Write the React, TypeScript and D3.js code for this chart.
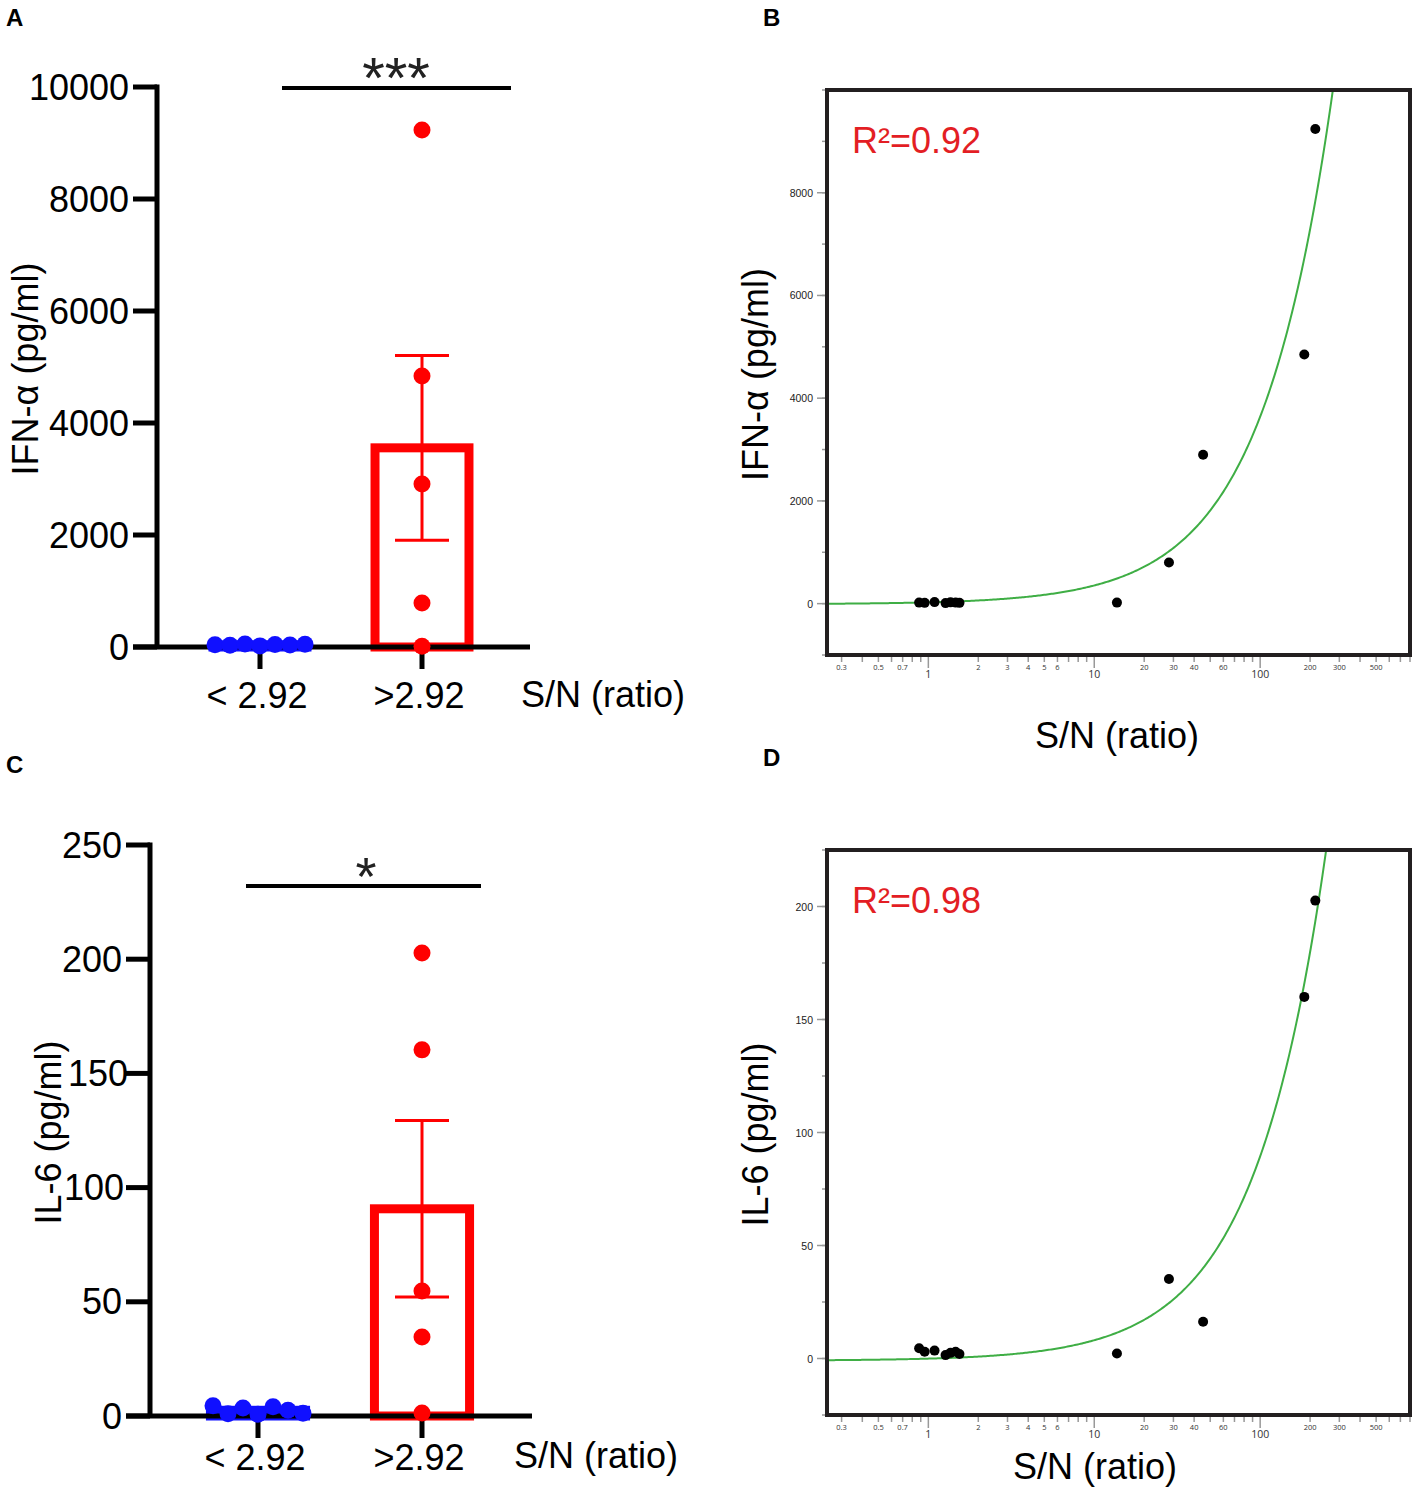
import React from 'react';
import * as d3 from 'd3';

// ---------------- data ----------------
const groups = ['< 2.92', '>2.92'];
const ifnLow = [40, 30, 55, 20, 45, 35, 50];
const ifnHigh = [9232, 4839, 2911, 786, 15];
const il6Low = [4.5, 1.0, 3.5, 0.8, 4.0, 2.5, 1.2];
const il6High = [202.7, 160.3, 54.7, 34.6, 1.3];
const ifnBarTicks = [0, 2000, 4000, 6000, 8000, 10000];
const il6BarTicks = [0, 50, 100, 150, 200, 250];

const snRatio = [0.88, 0.95, 1.09, 1.27, 1.36, 1.46, 1.54, 13.7, 28.2, 45.3, 184.5, 215];
const ifnScatter = [20, 15, 30, 10, 25, 20, 15, 20, 800, 2900, 4850, 9240];
const il6Scatter = [4.5, 3, 3.5, 1.5, 2.5, 3, 2, 2.2, 35.2, 16.3, 160, 202.6];
const ifnScatterTicks = [0, 2000, 4000, 6000, 8000];
const il6ScatterTicks = [0, 50, 100, 150, 200];
const logLabelsSmall = [0.3, 0.5, 0.7, 2, 3, 4, 5, 6, 20, 30, 40, 60, 200, 300, 500];
const logLabelsBig = [1, 10, 100];
const r2Labels = ['R\u00b2=0.92', 'R\u00b2=0.98'];

const FONT = "'Liberation Sans', Arial, Helvetica, sans-serif";
const RED = '#ff0000';
const BLUE = '#1010ff';

type BarProps = {
  axisX: number; y0: number; yTop: number; max: number; ticks: number[];
  bandStart: number; bandEnd: number; xEnd: number;
  low: number[]; high: number[];
  yLabel: string; yLabelX: number; catLabelDy: number; snX: number; snY: number;
  sigX1: number; sigX2: number; sigY: number; sigText: string; sigFont: number; sigTextX: number;
  labelShift?: Record<number, number>;
};

function BarPanel(p: BarProps) {
  const y = d3.scaleLinear().domain([0, p.max]).range([p.y0, p.yTop]);
  const x = d3.scaleBand().domain(groups).range([p.bandStart, p.bandEnd]);
  const bw = x.bandwidth() * 0.58;
  const sets = [
    { g: groups[0], vals: p.low, color: BLUE },
    { g: groups[1], vals: p.high, color: RED },
  ];
  const stats = sets.map((s) => {
    const m = d3.mean(s.vals) as number;
    const sem = (d3.deviation(s.vals) as number) / Math.sqrt(s.vals.length);
    return { ...s, m, sem, cx: (x(s.g) as number) + x.bandwidth() / 2 };
  });
  const shift = p.labelShift || {};
  return (
    <g fontFamily={FONT}>
      {stats.map((s) => (
        <rect key={s.g} x={s.cx - bw / 2} y={y(s.m)} width={bw} height={p.y0 - y(s.m)}
          fill={s.color === BLUE ? BLUE : '#fff'} stroke={s.color} strokeWidth={9} />
      ))}
      {/* y axis */}
      <line x1={p.axisX} x2={p.axisX} y1={y(p.max) - 2.5} y2={p.y0} stroke="#000" strokeWidth={5} />
      {p.ticks.map((t) => (
        <g key={t}>
          <line x1={p.axisX - 24} x2={p.axisX} y1={y(t)} y2={y(t)} stroke="#000" strokeWidth={5} />
          <text x={p.axisX - 28 + (shift[t] || 0)} y={y(t)} textAnchor="end" dominantBaseline="central" fontSize={36} fill="#000">{t}</text>
        </g>
      ))}
      {/* x axis */}
      <line x1={p.axisX - 24} x2={p.xEnd} y1={p.y0} y2={p.y0} stroke="#000" strokeWidth={5} />
      {stats.map((s) => (
        <g key={'t' + s.g}>
          <line x1={s.cx} x2={s.cx} y1={p.y0} y2={p.y0 + 22} stroke="#000" strokeWidth={5} />
          <text x={s.cx - 3} y={p.y0 + p.catLabelDy} textAnchor="middle" dominantBaseline="central" fontSize={36}>{s.g}</text>
        </g>
      ))}
      <text x={p.snX} y={p.snY} dominantBaseline="central" fontSize={36}>S/N (ratio)</text>
      <text transform={`translate(${p.yLabelX},${(p.y0 + p.yTop) / 2 + 2}) rotate(-90)`} textAnchor="middle"
        dominantBaseline="central" fontSize={36}>{p.yLabel}</text>
      {/* error bars */}
      {stats.map((s) => (
        <g key={'e' + s.g} stroke={s.color} strokeWidth={3}>
          <line x1={s.cx} x2={s.cx} y1={y(s.m + s.sem)} y2={y(s.m - s.sem)} />
          <line x1={s.cx - 27} x2={s.cx + 27} y1={y(s.m + s.sem)} y2={y(s.m + s.sem)} />
          <line x1={s.cx - 27} x2={s.cx + 27} y1={y(s.m - s.sem)} y2={y(s.m - s.sem)} />
        </g>
      ))}
      {/* dots */}
      {stats.map((s) =>
        s.vals.map((v, i) => {
          const n = s.vals.length;
          const dx = s.color === BLUE ? (i - (n - 1) / 2) * 15 : 0;
          return <circle key={s.g + i} cx={s.cx + dx} cy={y(v)} r={8.5} fill={s.color} />;
        })
      )}
      {/* significance */}
      <line x1={p.sigX1} x2={p.sigX2} y1={p.sigY} y2={p.sigY} stroke="#000" strokeWidth={4} />
      <text x={p.sigTextX} y={p.sigY + p.sigFont * 0.17} textAnchor="middle" fontSize={p.sigFont} fill="#222">{p.sigText}</text>
    </g>
  );
}

type ScatterProps = {
  top: number; bottom: number; yDomain: [number, number]; ticks: number[]; minorStep: number;
  xs: number[]; ys: number[]; yLabel: string; r2: string; titleX: number; titleY: number; id: string;
};

function ScatterPanel(p: ScatterProps) {
  const left = 827, right = 1410;
  const x = d3.scaleLog().domain([0.245, 800]).range([left, right]);
  const y = d3.scaleLinear().domain(p.yDomain).range([p.bottom, p.top]);
  const mx = d3.mean(p.xs) as number;
  const my = d3.mean(p.ys) as number;
  const sxy = d3.sum(p.xs, (v, i) => (v - mx) * (p.ys[i] - my));
  const sxx = d3.sum(p.xs, (v) => (v - mx) * (v - mx));
  const b = sxy / sxx;
  const a = my - b * mx;
  const samples = d3.range(0, 401).map((i) => 0.245 * Math.pow(800 / 0.245, i / 400));
  const line = d3.line<number>().x((v) => x(v)).y((v) => y(a + b * v));
  const minorY = d3.range(p.yDomain[0], p.yDomain[1] + 0.001, p.minorStep);
  const xTickVals: number[] = [];
  [0.1, 1, 10, 100].forEach((dec) => {
    for (let k = 1; k <= 9; k++) {
      const v = dec * k;
      if (v >= 0.3 - 1e-9 && v <= 800 + 1e-9) xTickVals.push(+v.toFixed(4));
    }
  });
  return (
    <g fontFamily={FONT}>
      <defs>
        <clipPath id={p.id}>
          <rect x={left} y={p.top} width={right - left} height={p.bottom - p.top} />
        </clipPath>
      </defs>
      {/* y ticks */}
      {minorY.map((t) => (
        <line key={'m' + t} x1={left - 5} x2={left} y1={y(t)} y2={y(t)} stroke="#999" strokeWidth={1.5} />
      ))}
      {p.ticks.map((t) => (
        <g key={t}>
          <line x1={left - 10} x2={left} y1={y(t)} y2={y(t)} stroke="#999" strokeWidth={1.5} />
          <text x={left - 14} y={y(t)} textAnchor="end" dominantBaseline="central" fontSize={10.5} fill="#222">{t}</text>
        </g>
      ))}
      {/* x ticks */}
      {xTickVals.map((v) => {
        const big = logLabelsBig.includes(v);
        return <line key={'x' + v} x1={x(v)} x2={x(v)} y1={p.bottom} y2={p.bottom + (big ? 13 : 7)} stroke="#999" strokeWidth={1.5} />;
      })}
      {logLabelsSmall.map((v) => (
        <text key={'ls' + v} x={x(v)} y={p.bottom + 12} textAnchor="middle" dominantBaseline="central" fontSize={7.5} fill="#333"
          fontFamily="'Open Sans', sans-serif">{v}</text>
      ))}
      {logLabelsBig.map((v) => (
        <text key={'lb' + v} x={x(v)} y={p.bottom + 19} textAnchor="middle" dominantBaseline="central" fontSize={10.5} fill="#333"
          fontFamily="'Open Sans', sans-serif">{v}</text>
      ))}
      {/* curve */}
      <path d={line(samples) as string} fill="none" stroke="#3fae45" strokeWidth={2} clipPath={`url(#${p.id})`} />
      {/* dots */}
      {p.xs.map((v, i) => (
        <circle key={'d' + i} cx={x(v)} cy={y(p.ys[i])} r={5} fill="#000" />
      ))}
      {/* frame */}
      <rect x={left} y={p.top} width={right - left} height={p.bottom - p.top} fill="none" stroke="#231f20" strokeWidth={4} />
      <text x={852} y={p.top + 50} dominantBaseline="central" fontSize={36} fill="#e31e24">{p.r2}</text>
      <text transform={`translate(755,${(p.top + p.bottom) / 2 + 2}) rotate(-90)`} textAnchor="middle" dominantBaseline="central"
        fontSize={36}>{p.yLabel}</text>
      <text x={p.titleX} y={p.titleY} textAnchor="middle" dominantBaseline="central" fontSize={36}>S/N (ratio)</text>
    </g>
  );
}

export default function App() {
  return (
    <svg width={1418} height={1491} style={{ position: 'absolute', left: 0, top: 0, background: '#fff' }}>
      <rect width={1418} height={1491} fill="#fff" />
      <g fontFamily={FONT} fontWeight="bold" fontSize={24}>
        <text x={6} y={26}>A</text>
        <text x={763} y={26}>B</text>
        <text x={6} y={773}>C</text>
        <text x={763} y={766}>D</text>
      </g>
      <BarPanel axisX={157} y0={647} yTop={87} max={10000} ticks={ifnBarTicks}
        bandStart={179} bandEnd={503} xEnd={530} low={ifnLow} high={ifnHigh}
        yLabel="IFN-α (pg/ml)" yLabelX={25} catLabelDy={48} snX={521} snY={694}
        sigX1={282} sigX2={511} sigY={88} sigText="***" sigFont={58} sigTextX={396} />
      <BarPanel axisX={150} y0={1416} yTop={845} max={250} ticks={il6BarTicks}
        bandStart={176} bandEnd={504} xEnd={532} low={il6Low} high={il6High}
        yLabel="IL-6 (pg/ml)" yLabelX={48} catLabelDy={41} snX={514} snY={1455}
        sigX1={246} sigX2={481} sigY={886} sigText="*" sigFont={54} sigTextX={366}
        labelShift={{ 150: 6, 100: 2 }} />
      <ScatterPanel id="clipB" top={90} bottom={655} yDomain={[-1000, 10000]} ticks={ifnScatterTicks} minorStep={1000}
        xs={snRatio} ys={ifnScatter} yLabel="IFN-α (pg/ml)" r2={r2Labels[0]} titleX={1117} titleY={735} />
      <ScatterPanel id="clipD" top={850} bottom={1415} yDomain={[-25, 225]} ticks={il6ScatterTicks} minorStep={25}
        xs={snRatio} ys={il6Scatter} yLabel="IL-6 (pg/ml)" r2={r2Labels[1]} titleX={1095} titleY={1466} />
    </svg>
  );
}
